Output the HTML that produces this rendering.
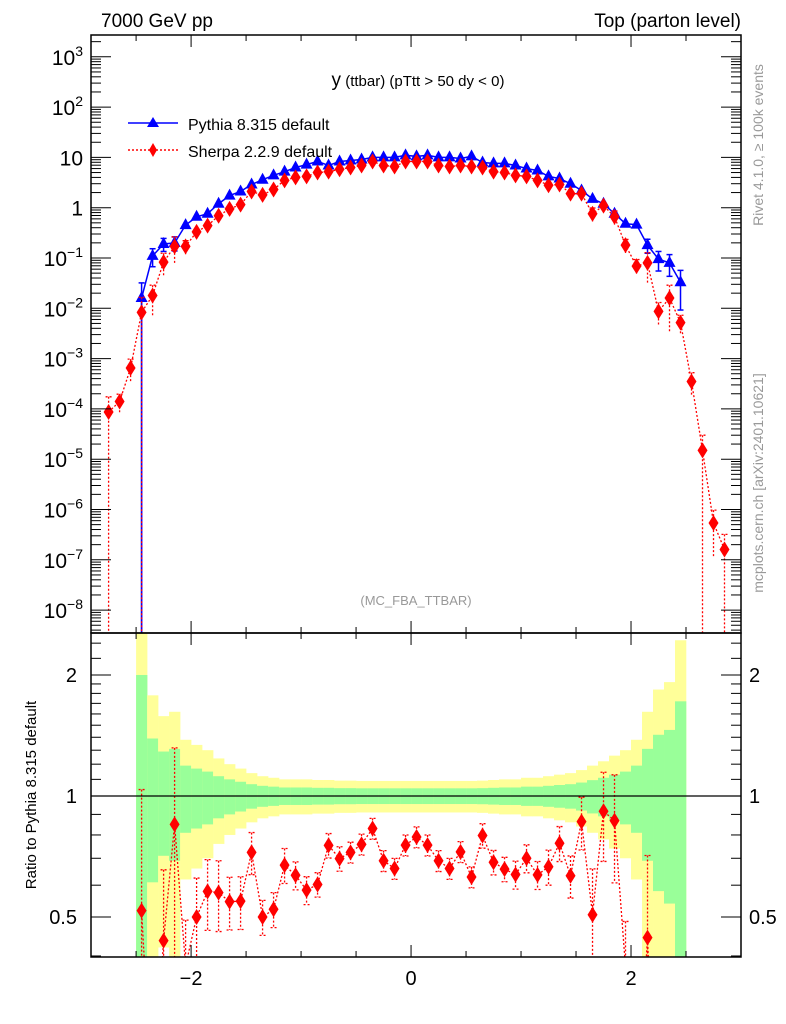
<!DOCTYPE html>
<html><head><meta charset="utf-8"><style>
html,body{margin:0;padding:0;background:#fff;width:786px;height:1024px;overflow:hidden;}
svg{display:block;font-family:"Liberation Sans",sans-serif;}
</style></head><body>
<svg id="chart" width="786" height="1024" viewBox="0 0 786 1024" xmlns="http://www.w3.org/2000/svg">
<g id="bands"></g>
<g id="marks"></g>
<g id="axes"></g>
<text x="101" y="27" font-size="19">7000 GeV pp</text>
<text x="741" y="27" font-size="19" text-anchor="end">Top (parton level)</text>
<text x="418" y="86" text-anchor="middle"><tspan font-size="19">y</tspan><tspan font-size="15"> (ttbar) (pTtt &gt; 50 dy &lt; 0)</tspan></text>
<text x="416" y="605" font-size="13" fill="#999" text-anchor="middle">(MC_FBA_TTBAR)</text>
<g>
<g>
<line x1="128" y1="123" x2="178" y2="123" stroke="#00f" stroke-width="1.5"/>
<polygon points="153,117 159,127 147,127" fill="#00f"/>
<text x="188" y="130" font-size="16">Pythia 8.315 default</text></g>
<g>
<line x1="128" y1="150" x2="178" y2="150" stroke="#f00" stroke-width="1.5" stroke-dasharray="2,2"/>
<polygon points="153,143 157,150 153,157 149,150" fill="#f00"/>
<text x="188" y="157" font-size="16">Sherpa 2.2.9 default</text></g>
</g>
<text transform="translate(763,145) rotate(-90)" font-size="14" fill="#999" text-anchor="middle">Rivet 4.1.0, ≥ 100k events</text>
<text transform="translate(763,483) rotate(-90)" font-size="14" fill="#999" text-anchor="middle">mcplots.cern.ch [arXiv:2401.10621]</text>
<text transform="translate(36,795) rotate(-90)" font-size="15" text-anchor="middle">Ratio to Pythia 8.315 default</text>
</svg>
<script>
const pythiaX = [-2.45,-2.35,-2.25,-2.15,-2.05,-1.95,-1.85,-1.75,-1.65,-1.55,-1.45,-1.35,-1.25,-1.15,-1.05,-0.95,-0.85,-0.75,-0.65,-0.55,-0.45,-0.35,-0.25,-0.15,-0.05,0.05,0.15,0.25,0.35,0.45,0.55,0.65,0.75,0.85,0.95,1.05,1.15,1.25,1.35,1.45,1.55,1.65,1.75,1.85,1.95,2.05,2.15,2.25,2.35,2.45];
const pythiaVal = [0.016,0.11,0.19,0.2,0.45,0.66,0.76,1.2,1.74,2.1,2.9,3.6,4.4,5.2,6.3,7.2,8.3,6.9,8.3,8.7,9.1,10,10,10,11,10.5,11,10,10,9.5,10.5,7.9,7.6,7.6,6.9,6,5.5,4.2,3.8,3,2.2,1.5,1.2,0.76,0.48,0.46,0.18,0.095,0.08,0.033];
const pythiaRelErr = [1.0,0.39,0.29,0.31,0.19,0.17,0.15,0.12,0.10,0.085,0.07,0.06,0.055,0.05,0.05,0.05,0.048,0.048,0.046,0.046,0.045,0.045,0.045,0.045,0.045,0.045,0.045,0.045,0.045,0.045,0.045,0.046,0.048,0.05,0.05,0.055,0.055,0.06,0.065,0.07,0.08,0.095,0.11,0.13,0.15,0.19,0.31,0.42,0.46,0.72];
const sherpaX = [-2.75,-2.65,-2.55,-2.45,-2.35,-2.25,-2.15,-2.05,-1.95,-1.85,-1.75,-1.65,-1.55,-1.45,-1.35,-1.25,-1.15,-1.05,-0.95,-0.85,-0.75,-0.65,-0.55,-0.45,-0.35,-0.25,-0.15,-0.05,0.05,0.15,0.25,0.35,0.45,0.55,0.65,0.75,0.85,0.95,1.05,1.15,1.25,1.35,1.45,1.55,1.65,1.75,1.85,1.95,2.05,2.15,2.25,2.35,2.45,2.55,2.65,2.75,2.85];
const sherpaVal = [8.7e-5,1.4e-4,6.5e-4,8.3e-3,0.018,0.083,0.17,0.17,0.33,0.44,0.69,0.95,1.15,2.1,1.8,2.3,3.5,4,4.2,5,5.2,5.8,6.3,6.9,8.3,6.9,6.6,8.3,8.3,8.3,6.9,6.6,6.9,6.6,6.3,5.2,5,4.4,4.2,3.5,2.8,2.9,1.9,1.9,0.76,1.1,0.66,0.18,0.069,0.08,0.0087,0.016,0.0052,3.5e-4,1.5e-5,5.4e-7,1.6e-7];
const sherpaRelErr = [1.0,0.4,0.5,1.0,0.6,0.5,0.55,0.3,0.25,0.2,0.2,0.15,0.15,0.12,0.1,0.1,0.1,0.08,0.08,0.07,0.07,0.07,0.06,0.06,0.06,0.06,0.06,0.06,0.06,0.06,0.06,0.06,0.06,0.06,0.07,0.07,0.07,0.08,0.08,0.08,0.1,0.1,0.12,0.15,0.3,0.25,0.3,0.3,0.35,0.6,0.5,0.8,0.4,0.5,1.0,0.8,1.0];
const mainTickExp = [-8,-7,-6,-5,-4,-3,-2,-1,0,1,2,3];
const mainTickBase = ["10","10","10","10","10","10","10","10","1","10","10","10"];
const mainTickSup = ["−8","−7","−6","−5","−4","−3","−2","−1","","","2","3"];
const xTicks = [-2,0,2];
const xTickLabels = ["−2","0","2"];
const ratioTicks = [0.5,1,2];
const ratioTickLabels = ["0.5","1","2"];

const NS="http://www.w3.org/2000/svg";
const L=91,R=741,T=35,MB=633,RB=957;
const XMIN=-2.91,XMAX=3.0,BW=0.1;
const sx=v=>L+(v-XMIN)/(XMAX-XMIN)*(R-L);
const ONE_Y=207.7,DEC=50.3;
const sy=v=>ONE_Y-Math.log10(v)*DEC;
const R1=796,RDEC=402;
const ry=v=>R1-Math.log10(v)*RDEC;
const clamp=(y,a,b)=>Math.max(a,Math.min(b,y));
function mk(tag,attrs,parent){const e=document.createElementNS(NS,tag);for(const k in attrs)e.setAttribute(k,attrs[k]);parent.appendChild(e);return e;}
const bands=document.getElementById('bands'),marks=document.getElementById('marks'),axes=document.getElementById('axes');

const defs=mk('defs',{},document.getElementById('chart'));
const c1=mk('clipPath',{id:'cm'},defs);mk('rect',{x:L,y:T,width:R-L,height:MB-T},c1);
const c2=mk('clipPath',{id:'cr'},defs);mk('rect',{x:L,y:MB,width:R-L,height:RB-MB},c2);
bands.setAttribute('clip-path','url(#cr)');
const mainG=mk('g',{'clip-path':'url(#cm)'},marks);


const ratG=mk('g',{'clip-path':'url(#cr)'},marks);



pythiaX.forEach((x,i)=>{
  const e=pythiaRelErr[i];
  const x0=sx(x-BW/2),w=sx(x+BW/2)-x0;
  const yt=clamp(ry(1+2*e),MB-5,RB+5), yb=(1-2*e)>0?clamp(ry(1-2*e),MB-5,RB+5):RB+5;
  const r1=mk('rect',{x:x0,y:yt,width:w+0.3,height:yb-yt,fill:'#ffff99'},bands);
  
  
  const gt=clamp(ry(1+e),MB-5,RB+5), gb=(1-e)>0?clamp(ry(1-e),MB-5,RB+5):RB+5;
  const r2=mk('rect',{x:x0,y:gt,width:w+0.3,height:gb-gt,fill:'#99ff99'},bands);
  
  
});
const ref=mk('line',{x1:L,x2:R,y1:ry(1),y2:ry(1),stroke:'#000','stroke-width':1.2},marks);



let pts=[[sx(pythiaX[0]),MB+5]];
pythiaX.forEach((x,i)=>pts.push([sx(x),sy(pythiaVal[i])]));
const pl=mk('polyline',{points:pts.map(p=>p.join(',')).join(' '),fill:'none',stroke:'#00f','stroke-width':1.5},mainG);


pythiaX.forEach((x,i)=>{
  const v=pythiaVal[i],e=pythiaRelErr[i],X=sx(x),Y=sy(v);
  const y1=sy(v*(1+e)),y2=(1-e)>0.001?sy(v*(1-e)):MB+5;
  if(Y-y1>5){mk('line',{x1:X,x2:X,y1:y1,y2:y2,stroke:'#00f','stroke-width':1.5},mainG);
    mk('line',{x1:X-3,x2:X+3,y1:y1,y2:y1,stroke:'#00f','stroke-width':1.5},mainG);
    if(y2<MB)mk('line',{x1:X-3,x2:X+3,y1:y2,y2:y2,stroke:'#00f','stroke-width':1.5},mainG);}
  const m=mk('polygon',{points:`${X},${Y-7} ${X+6},${Y+4} ${X-6},${Y+4}`,fill:'#00f'},mainG);
  
  
});

const sl=mk('polyline',{points:sherpaX.map((x,i)=>sx(x)+','+sy(sherpaVal[i])).join(' '),fill:'none',stroke:'#f00','stroke-width':1.3,'stroke-dasharray':'2,2'},mainG);


sherpaX.forEach((x,i)=>{
  const v=sherpaVal[i],e=sherpaRelErr[i],X=sx(x),Y=sy(v);
  const y1=sy(v*(1+e)),y2=(1-e)>0.001?sy(v*(1-e)):MB+5;
  if(Y-y1>5){mk('line',{x1:X,x2:X,y1:y1,y2:y2,stroke:'#f00','stroke-width':1.3,'stroke-dasharray':'2,2'},mainG);
    mk('line',{x1:X-3,x2:X+3,y1:y1,y2:y1,stroke:'#f00','stroke-width':1.3,'stroke-dasharray':'2,2'},mainG);}
  const m=mk('polygon',{points:`${X},${Y-8} ${X+5},${Y} ${X},${Y+8} ${X-5},${Y}`,fill:'#f00'},mainG);
  
  
});

const rp=[];
pythiaX.forEach((x,i)=>{
  const j=sherpaX.findIndex(s=>Math.abs(s-x)<1e-6);
  if(j<0)return;
  rp.push([x,sherpaVal[j]/pythiaVal[i],sherpaRelErr[j]]);
});
const rl=mk('polyline',{points:rp.map(p=>sx(p[0])+','+ry(p[1])).join(' '),fill:'none',stroke:'#f00','stroke-width':1.3,'stroke-dasharray':'2,2'},ratG);


rp.forEach(p=>{
  const X=sx(p[0]),Y=ry(p[1]);
  const y1=ry(p[1]*(1+p[2])),y2=(1-p[2])>0.001?ry(p[1]*(1-p[2])):RB+5;
  mk('line',{x1:X,x2:X,y1:y1,y2:y2,stroke:'#f00','stroke-width':1.3,'stroke-dasharray':'2,2'},ratG);
  mk('line',{x1:X-3,x2:X+3,y1:y1,y2:y1,stroke:'#f00','stroke-width':1.3,'stroke-dasharray':'2,2'},ratG);
  mk('line',{x1:X-3,x2:X+3,y1:y2,y2:y2,stroke:'#f00','stroke-width':1.3,'stroke-dasharray':'2,2'},ratG);
  const m=mk('polygon',{points:`${X},${Y-8} ${X+5},${Y} ${X},${Y+8} ${X-5},${Y}`,fill:'#f00'},ratG);
  
  
});

[[T,MB],[MB,RB]].forEach(([a,b])=>{
  const f=mk('rect',{x:L,y:a,width:R-L,height:b-a,fill:'none',stroke:'#000','stroke-width':1.5},axes);
  
  
});
mainTickExp.forEach((ex,k)=>{
  const y=sy(Math.pow(10,ex));
  if(y>=T&&y<=MB){
    mk('line',{x1:L,x2:L+20,y1:y,y2:y,stroke:'#000'},axes);
    mk('line',{x1:R,x2:R-20,y1:y,y2:y,stroke:'#000'},axes);
    const t=mk('text',{x:L-8,y:y+8,'font-size':21,'text-anchor':'end'},axes);
    
    
    const b=mk('tspan',{},t);b.textContent=mainTickBase[k];
    if(mainTickSup[k]){const s=mk('tspan',{'font-size':14,dy:-9},t);s.textContent=mainTickSup[k];}
  }
  for(let m=2;m<=9;m++){const ym=sy(m*Math.pow(10,ex));
    if(ym>T&&ym<MB){mk('line',{x1:L,x2:L+10,y1:ym,y2:ym,stroke:'#000'},axes);mk('line',{x1:R,x2:R-10,y1:ym,y2:ym,stroke:'#000'},axes);}}
});
for(let m=2;m<=9;m++){const y=sy(m*1e-9);if(y<MB&&y>T){mk('line',{x1:L,x2:L+10,y1:y,y2:y,stroke:'#000'},axes);mk('line',{x1:R,x2:R-10,y1:y,y2:y,stroke:'#000'},axes);}}
ratioTicks.forEach((v,k)=>{
  const y=ry(v);
  mk('line',{x1:L,x2:L+20,y1:y,y2:y,stroke:'#000'},axes);
  mk('line',{x1:R,x2:R-20,y1:y,y2:y,stroke:'#000'},axes);
  const t=mk('text',{x:L-14,y:y+7,'font-size':20,'text-anchor':'end'},axes);t.textContent=ratioTickLabels[k];
  
  
  const t2=mk('text',{x:R+8,y:y+7,'font-size':20},axes);t2.textContent=ratioTickLabels[k];
  
  
});
[0.4,0.6,0.7,0.8,0.9,1.1,1.2,1.3,1.4,1.5,1.6,1.7,1.8,1.9,2.2,2.4].forEach(v=>{const y=ry(v);if(y>MB&&y<RB){mk('line',{x1:L,x2:L+10,y1:y,y2:y,stroke:'#000'},axes);mk('line',{x1:R,x2:R-10,y1:y,y2:y,stroke:'#000'},axes);}});
for(let v=-2.5;v<=3.0001;v+=0.5){
  const x=sx(v),maj=Math.abs(v-Math.round(v))<1e-6&&Math.round(v)%2===0;
  const len=maj?12:6;
  [MB,RB].forEach(b=>mk('line',{x1:x,x2:x,y1:b,y2:b-len,stroke:'#000'},axes));
  [T,MB].forEach(t=>mk('line',{x1:x,x2:x,y1:t,y2:t+len,stroke:'#000'},axes));
}
xTicks.forEach((v,k)=>{
  const t=mk('text',{x:sx(v),y:RB+28,'font-size':20,'text-anchor':'middle'},axes);t.textContent=xTickLabels[k];
  
  
});
</script>
</body></html>
